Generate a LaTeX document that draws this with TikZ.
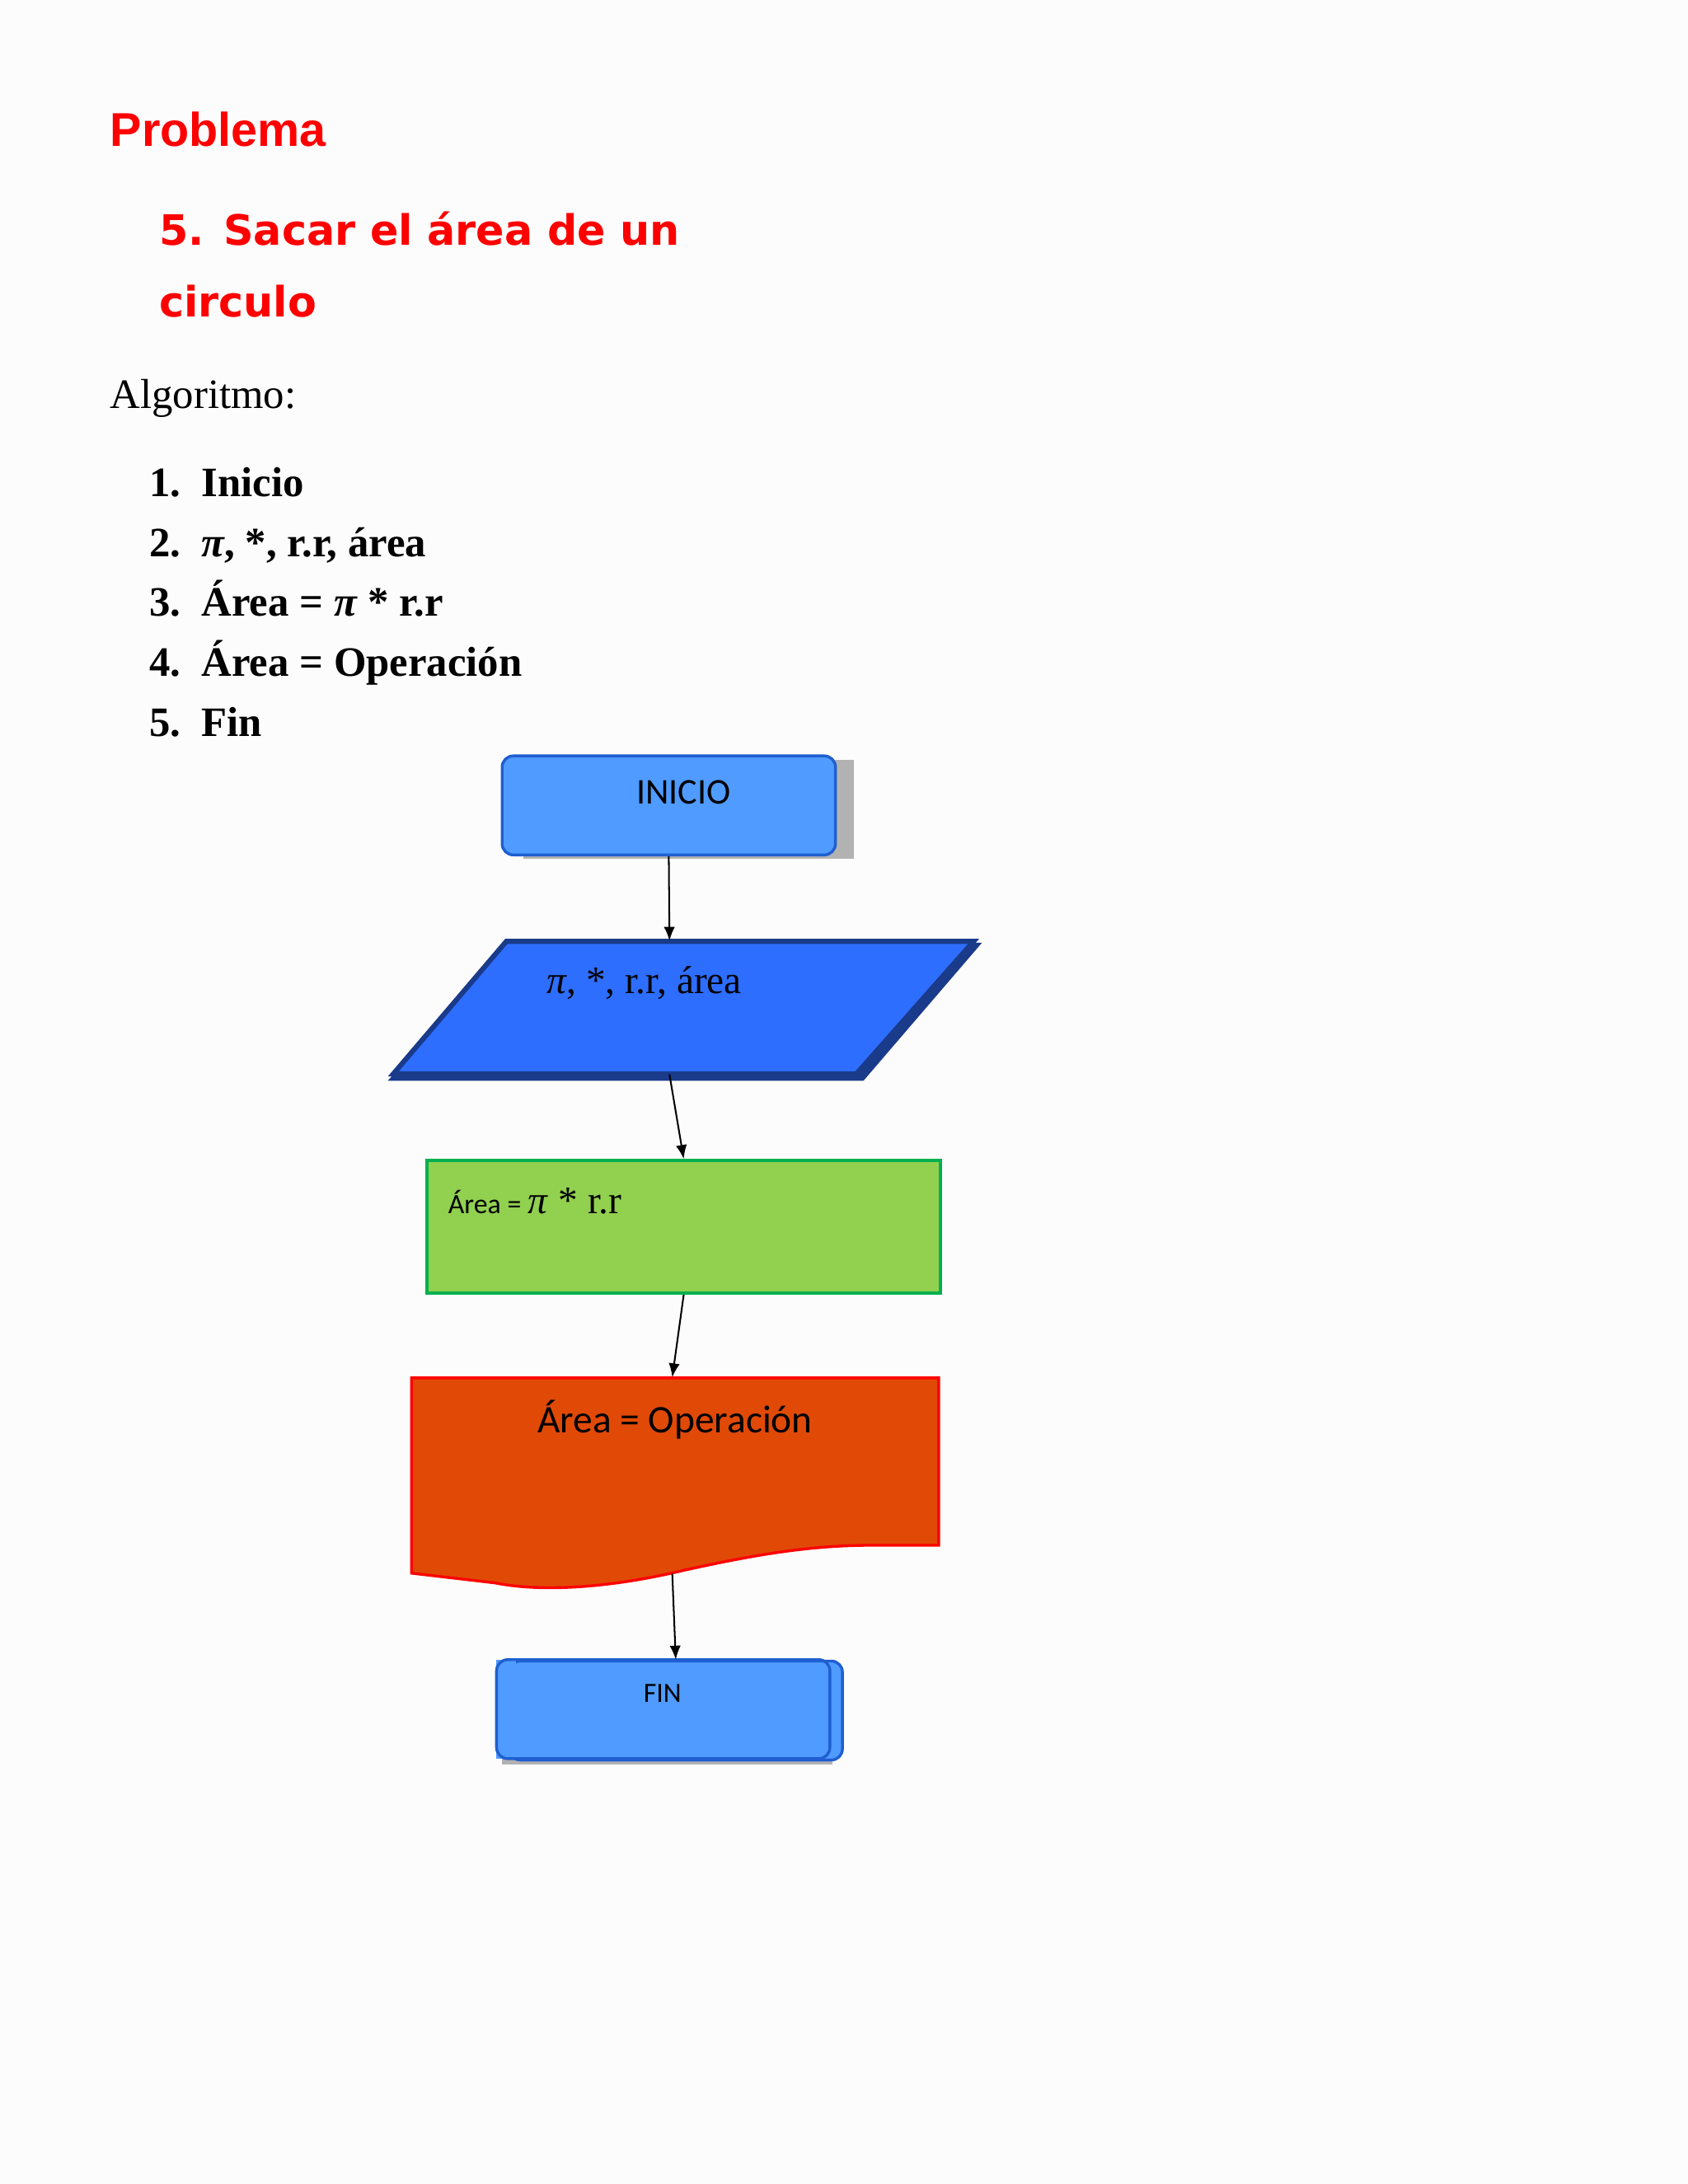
\documentclass[tikz,border=0pt]{standalone}
\usepackage{fontspec}
\setmainfont{Liberation Serif}
\newfontfamily\calfont{Carlito}
\newfontfamily\headfont{Liberation Sans}
\newfontfamily\comicfont{DejaVu Sans}
\usetikzlibrary{arrows.meta}
\definecolor{redt}{HTML}{FF0000}
\definecolor{boxb}{HTML}{4F9BFF}
\definecolor{boxbd}{HTML}{1F5FD0}
\definecolor{parf}{HTML}{2E6EFF}
\definecolor{pard}{HTML}{1A3A8A}
\definecolor{grf}{HTML}{92D050}
\definecolor{grd}{HTML}{00B050}
\definecolor{orf}{HTML}{E04A06}
\tikzset{
 term/.style={draw=boxbd,fill=boxb,line width=1pt,rounded corners=4pt,minimum width=119.5pt,minimum height=35.5pt,anchor=north west,inner sep=0pt},
 conn/.style={-{Latex[length=5pt,width=4pt]},line width=0.6pt},
 lst/.style={anchor=base west,font=\fontsize{15}{18}\selectfont\bfseries}
}
\begin{document}
\begin{tikzpicture}[x=0.5pt,y=-0.5pt]
\useasboundingbox (0,0) rectangle (1210,1566);
\fill[white!98!gray] (0,0) rectangle (1210,1566);
\node[anchor=base west,text=redt,font=\headfont\bfseries\fontsize{17}{20}\selectfont] (t1) at (72,105) {Problema};
\node[anchor=base west,text=redt,font=\comicfont\bfseries\fontsize{15}{18}\selectfont] (t2) at (107,176) {5. Sacar el área de un};
\node[anchor=base west,text=redt,font=\comicfont\bfseries\fontsize{15}{18}\selectfont] (t3) at (107,227) {circulo};
\node[anchor=base west,font=\fontsize{15}{18}\selectfont] (alg) at (72,293) {Algoritmo:};
\node[lst] (l1) at (100,356) {1.\ \ Inicio};
\node[lst] (l2) at (100,399) {2.\ \ \textit{π}, *, r.r, área};
\node[lst] (l3) at (100,442) {3.\ \ Área = \textit{π} * r.r};
\node[lst] (l4) at (100,485) {4.\ \ Área = Operación};
\node[lst] (l5) at (100,528) {5.\ \ Fin};
% INICIO
\fill[gray!60] (375,545) rectangle (612,616);
\node[term] (ini) at (359,541) {};
\node[font=\calfont\fontsize{13}{15}\selectfont] (init) at (490,568) {INICIO};
% parallelogram
\fill[pard] (367,676) -- (704,676) -- (619,775) -- (278,775) -- cycle;
\draw[pard,fill=parf,line width=1.8pt] (363,675) -- (698,675) -- (614,770) -- (282,770) -- cycle;
\node[minimum width=150pt,minimum height=47.5pt,inner sep=0pt] (par) at (480,722.5) {};
\node[font=\fontsize{14}{16}\selectfont] (part) at (462,705) {\textit{π}, *, r.r, área};
% green
\node[draw=grd,fill=grf,line width=1.2pt,minimum width=184pt,minimum height=47.5pt,anchor=north west,inner sep=0pt] (gr) at (305,831) {};
\node[anchor=base west,inner sep=0pt] (grt) at (321,870) {{\calfont\fontsize{10}{12}\selectfont Área =} {\fontsize{14}{16}\selectfont \textit{π} * r.r}};
% document
\draw[redt,fill=orf,line width=1pt] (295,988) -- (673,988) -- (673,1108) -- (625,1108) .. controls (580,1108) and (540,1115) .. (490,1126) .. controls (440,1138) and (390,1142) .. (355,1135) -- (295,1128) -- cycle;
\node[minimum width=189pt,minimum height=70pt,inner sep=0pt] (doc) at (482,1058) {};
\node[font=\calfont\fontsize{14}{16}\selectfont] (doct) at (484,1018) {Área = Operación};
% FIN
\fill[gray!60] (360,1194) rectangle (597,1265);
\node[term] (fin) at (364,1190) {};
\node[font=\calfont\fontsize{10}{12}\selectfont] (fint) at (475,1214) {FIN};
\fill[boxb] (356,1190) rectangle (370,1261);
\draw[boxbd,line width=1pt,rounded corners=4pt] (356,1190) rectangle (595,1261);
% arrows
\draw[conn] (ini.south) -- (par.north);
\draw[conn] (par.south) -- (gr.north);
\draw[conn] (gr.south) -- (doc.north);
\draw[conn] (doc.south) -- (fin.north);
\end{tikzpicture}
\end{document}
